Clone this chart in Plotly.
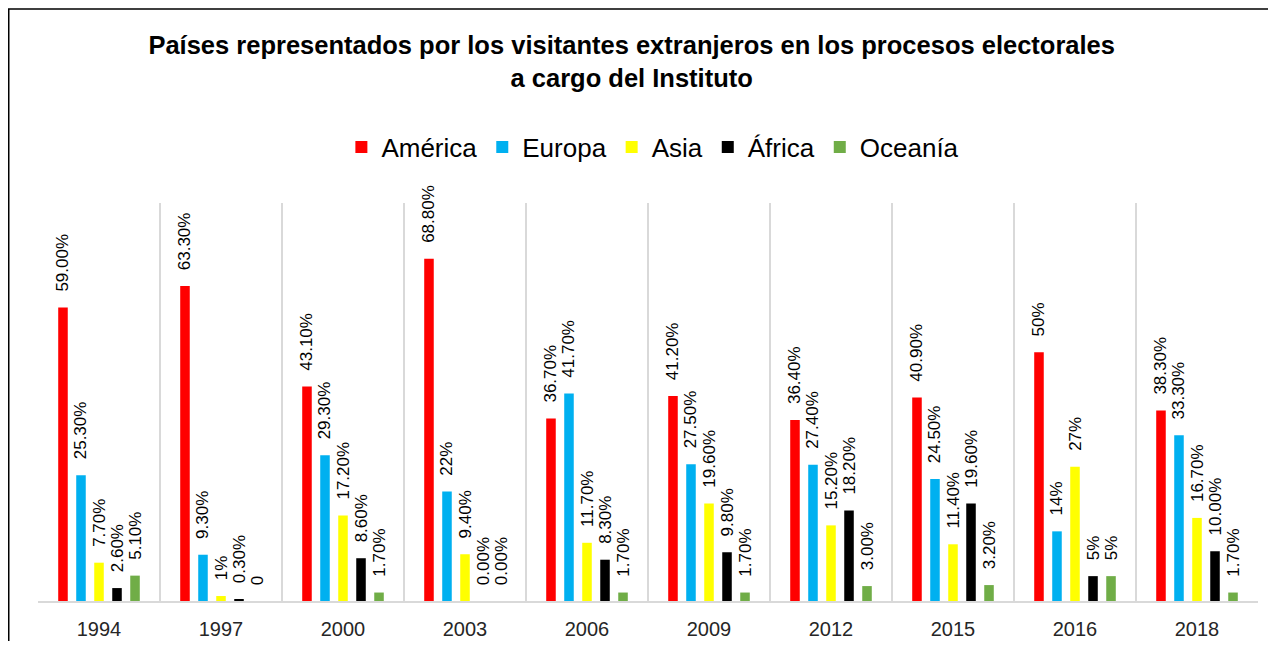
import plotly.graph_objects as go

years = ["1994", "1997", "2000", "2003", "2006", "2009", "2012", "2015", "2016", "2018"]
series_names = ["América", "Europa", "Asia", "África", "Oceanía"]
america = [59.0, 63.3, 43.1, 68.8, 36.7, 41.2, 36.4, 40.9, 50.0, 38.3]
europa = [25.3, 9.3, 29.3, 22.0, 41.7, 27.5, 27.4, 24.5, 14.0, 33.3]
asia = [7.7, 1.0, 17.2, 9.4, 11.7, 19.6, 15.2, 11.4, 27.0, 16.7]
africa = [2.6, 0.3, 8.6, 0.0, 8.3, 9.8, 18.2, 19.6, 5.0, 10.0]
oceania = [5.1, 0.0, 1.7, 0.0, 1.7, 1.7, 3.0, 3.2, 5.0, 1.7]

america_labels = ["59.00%", "63.30%", "43.10%", "68.80%", "36.70%", "41.20%", "36.40%", "40.90%", "50%", "38.30%"]
europa_labels = ["25.30%", "9.30%", "29.30%", "22%", "41.70%", "27.50%", "27.40%", "24.50%", "14%", "33.30%"]
asia_labels = ["7.70%", "1%", "17.20%", "9.40%", "11.70%", "19.60%", "15.20%", "11.40%", "27%", "16.70%"]
africa_labels = ["2.60%", "0.30%", "8.60%", "0.00%", "8.30%", "9.80%", "18.20%", "19.60%", "5%", "10.00%"]
oceania_labels = ["5.10%", "0", "1.70%", "0.00%", "1.70%", "1.70%", "3.00%", "3.20%", "5%", "1.70%"]

colors = ["#FF0000", "#00B0F0", "#FFFF00", "#000000", "#70AD47"]

values = [america, europa, asia, africa, oceania]
labels = [america_labels, europa_labels, asia_labels, africa_labels, oceania_labels]

FONT = "Liberation Sans, Arial, sans-serif"
PAD = "\u00a0\u00a0\u2009"

fig = go.Figure()
for name, vals, labs, col in zip(series_names, values, labels, colors):
    fig.add_trace(go.Bar(
        name=name, x=years, y=vals,
        text=[PAD + t for t in labs],
        textposition="outside", textangle=-90,
        textfont=dict(family=FONT, size=17, color="#000000"),
        constraintext="none", cliponaxis=False,
        marker=dict(color=col, line=dict(width=0)),
        hoverinfo="skip",
    ))

# the page body adds an 8px offset; the figure is sized to the visible area
W, H = 1260, 633
L, R, T, B = 30, 10, 195, 40
pw = W - L - R
ph = H - T - B

def px_x(p):
    return (p - L) / pw

def px_y(p):
    return (H - B - p) / ph

fig.update_layout(
    width=W, height=H,
    margin=dict(l=L, r=R, t=T, b=B, autoexpand=False),
    paper_bgcolor="white", plot_bgcolor="white",
    barmode="group", bargap=0.262, bargroupgap=0.47,
    title=dict(
        text="Países representados por los visitantes extranjeros en los procesos electorales<br>a cargo del Instituto",
        x=0.495, xanchor="center", xref="container",
        y=1 - 46 / H, yanchor="top", yref="container",
        font=dict(family=FONT, size=25.5, color="#000000", weight="bold"),
    ),
    legend=dict(
        orientation="h", x=0.504, xanchor="center", xref="paper",
        y=px_y(139), yanchor="middle",
        font=dict(family=FONT, size=26, color="#000000"),
        itemclick=False, itemdoubleclick=False,
    ),
    xaxis=dict(
        type="category", tickson="boundaries", showgrid=True,
        gridcolor="#D9D9D9", gridwidth=1.5,
        showline=True, linecolor="#D9D9D9", linewidth=1.5,
        ticks="", ticklabelstandoff=9, automargin=False,
        tickfont=dict(family=FONT, size=20, color="#262626"),
        fixedrange=True,
    ),
    yaxis=dict(
        range=[0, 80], showgrid=False, zeroline=False, showticklabels=False,
        showline=False, fixedrange=True, automargin=False,
    ),
    showlegend=True,
    shapes=[dict(
        type="rect", xref="paper", yref="paper",
        x0=px_x(0.75), x1=px_x(1275), y0=px_y(660), y1=px_y(1),
        line=dict(color="#000000", width=1.5), fillcolor="rgba(0,0,0,0)", layer="above",
    )],
)

fig.write_html("out.html", config={"displayModeBar": False})
